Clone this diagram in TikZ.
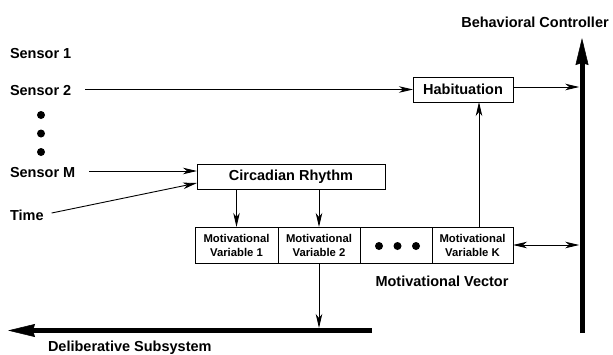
\documentclass[tikz,border=0pt]{standalone}
\usepackage{fontspec}
\setmainfont{Liberation Sans}
\usetikzlibrary{arrows.meta}
\begin{document}
\begin{tikzpicture}[x=1pt,y=-1pt,
  lbl/.style={font=\fontsize{14.5}{17}\selectfont\bfseries, inner sep=0pt, outer sep=0pt},
  box/.style={draw, line width=0.9pt, inner sep=0pt, outer sep=0pt, font=\fontsize{14.5}{17}\selectfont\bfseries},
  cell/.style={draw, line width=0.9pt, inner sep=0pt, outer sep=0pt, minimum height=36pt, align=center, font=\fontsize{11.3}{14}\selectfont\bfseries},
  arr/.style={line width=0.9pt, -{Stealth[length=14pt,width=6.5pt,inset=4pt]}},
  arrtwo/.style={line width=0.9pt, {Stealth[length=14pt,width=6.5pt,inset=4pt]}-{Stealth[length=14pt,width=6.5pt,inset=4pt]}},
  bigarr/.style={line width=5pt, -{Stealth[length=27pt,width=13pt,inset=2pt,line width=0.5pt]}}
]
\useasboundingbox (0,0) rectangle (613,354);

% labels
\node[lbl, anchor=base west] (s1) at (10,58) {Sensor 1};
\node[lbl, anchor=base west] (s2) at (10,95.7) {Sensor 2};
\node[lbl, anchor=base west] (sM) at (10,177) {Sensor M};
\node[lbl, anchor=base west] (time) at (10,220.7) {Time};
\node[lbl, anchor=base] (beh) at (535,27) {Behavioral Controller};
\node[lbl, anchor=base] (mv) at (442,286) {Motivational Vector};
\node[lbl, anchor=base west] (del) at (48,351.5) {Deliberative Subsystem};

% sensor dots
\fill (41,115) circle (4pt);
\fill (41,133.5) circle (4pt);
\fill (41,152) circle (4pt);

% boxes
\node[box, minimum width=188pt, minimum height=25pt] (circ) at (291,176.5) {Circadian Rhythm};
\node[box, minimum width=100pt, minimum height=25pt] (hab) at (463,89.5) {Habituation};

\node[cell, minimum width=83pt] (var1) at (236.5,245) {Motivational\\Variable 1};
\node[cell, minimum width=82pt] (var2) at (319,245) {Motivational\\Variable 2};
\node[cell, minimum width=72pt] (vdots) at (396,245) {};
\node[cell, minimum width=81pt] (varK) at (472.5,245) {Motivational\\Variable K};
\fill (379,246) circle (4pt);
\fill (397.5,246) circle (4pt);
\fill (416,246) circle (4pt);

% thick bars
\coordinate (barBot) at (582,333);
\coordinate (barTop) at (582,38);
\coordinate (barL) at (579.25,0);
\draw[bigarr] (barBot) -- (barTop);
\coordinate (hbR) at (372,330.5);
\coordinate (hbL) at (8,330.5);
\coordinate (hbTop) at (0,328);
\draw[bigarr] (hbR) -- (hbL);

% connectors
\coordinate (s2o) at ([xshift=14pt]s2.east);
\draw[arr] (s2o |- hab.west) -- (hab.west);

\coordinate (cin) at ([yshift=5.5pt]circ.west);
\coordinate (sMo) at ([xshift=14pt]sM.east);
\draw[arr] (sMo |- cin) -- (cin);

\coordinate (to) at ([xshift=8pt,yshift=2.5pt]time.east);
\coordinate (ctime) at ([yshift=6pt]circ.south west);
\draw[arr] (to) -- (ctime);

\draw[arr] (var1.north |- circ.south) -- (var1.north);
\draw[arr] (var2.north |- circ.south) -- (var2.north);

\coordinate (ku) at ([xshift=6.5pt]varK.north);
\draw[arr] (ku) -- (ku |- hab.south);

\coordinate (habout) at ([yshift=2.5pt]hab.east);
\draw[arr] (habout) -- (barL |- habout);

\draw[arrtwo] (varK.east) -- (barL |- varK.east);

\draw[arr] (var2.south) -- (var2.south |- hbTop);
\end{tikzpicture}
\end{document}
